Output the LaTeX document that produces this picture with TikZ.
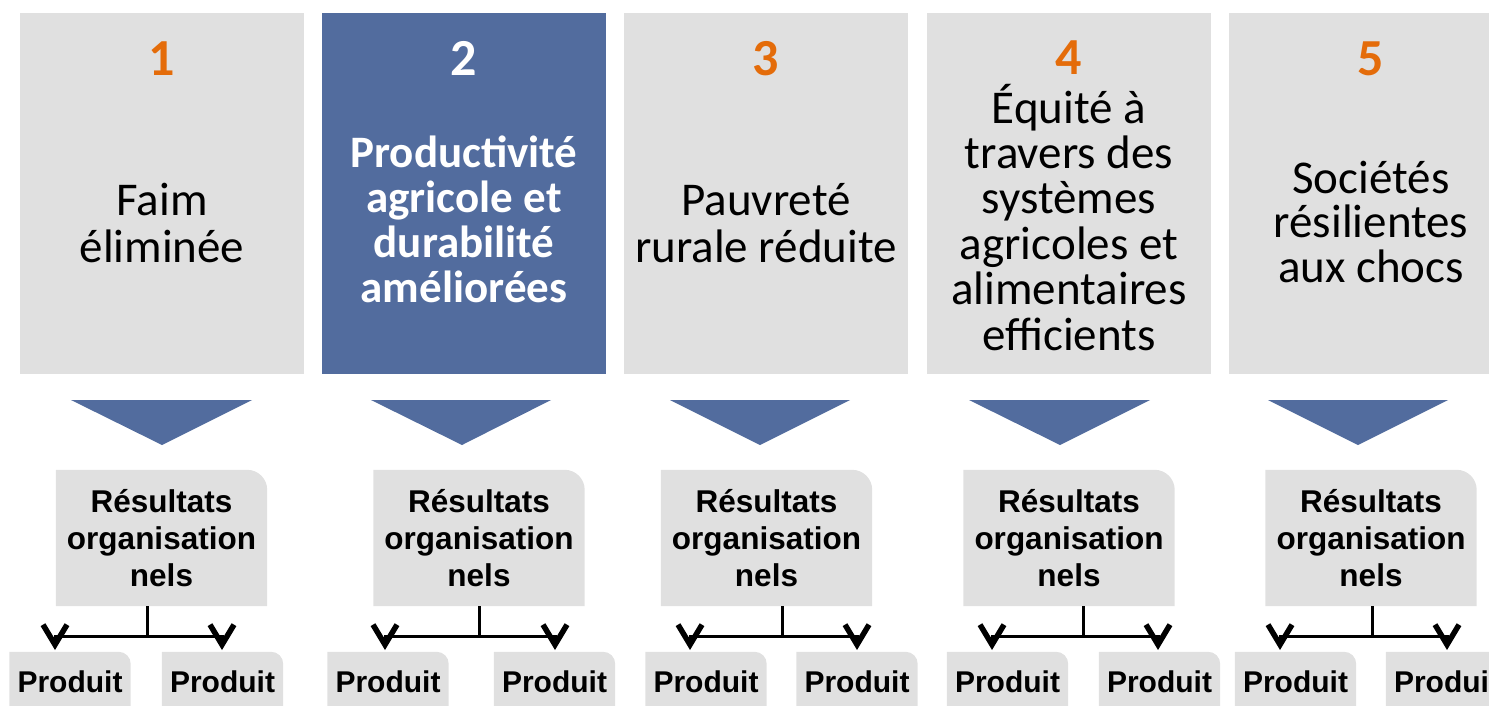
\documentclass[tikz,border=0pt]{standalone}
\usepackage{fontspec}
\setmainfont{Carlito}
\newfontfamily\arialf{Liberation Sans}
\usetikzlibrary{arrows.meta,backgrounds}
\definecolor{boxgray}{RGB}{224,224,224}
\definecolor{fblue}{RGB}{82,108,158}
\definecolor{forange}{RGB}{228,108,10}
\newcommand{\cornerfill}[2]{%
  \fill[boxgray] (#1.south west) -- (#1.north west) -- ([xshift=-#2]#1.north east)
    .. controls ([xshift=-0.45*#2]#1.north east) and ([yshift=-0.45*#2]#1.north east) ..
    ([yshift=-#2]#1.north east) -- (#1.south east) -- cycle;}
\begin{document}
\begin{tikzpicture}[x=1pt,y=-1pt,
  topbox/.style={draw=none,fill=boxgray,minimum width=284pt,minimum height=361pt,inner sep=0pt},
  numlbl/.style={anchor=base,text=forange,font=\bfseries\fontsize{52}{52}\selectfont,inner sep=0pt},
  toptext/.style={anchor=base,align=center,inner sep=0pt},
  tri/.style={fill=fblue,draw=none},
  resbox/.style={minimum width=211pt,minimum height=136pt,inner sep=0pt,align=center,
    font=\arialf\bfseries\fontsize{31.5}{37}\selectfont},
  prodbox/.style={minimum width=121pt,minimum height=60pt,inner sep=0pt,text height=21.6pt,text depth=0pt,
    font=\arialf\bfseries\fontsize{30}{36}\selectfont},
  link/.style={line width=3pt,black},
  arr/.style={line width=3pt,black,-{Straight Barb[length=20pt,width=24pt,line width=5.5pt]}}
]
\useasboundingbox (0,0) rectangle (1489,705);
\clip (0,0) rectangle (1489,705);

% top boxes
\node[topbox] (t1) at (162,193.5) {};
\node[topbox,fill=fblue] (t2) at (464,193.5) {};
\node[topbox] (t3) at (766,193.5) {};
\node[topbox] (t4) at (1069,193.5) {};
\node[topbox] (t5) at (1371,193.5) {};

\node[numlbl] (n1) at (162,75) {1};
\node[numlbl,text=white] (n2) at (464,75) {2};
\node[numlbl] (n3) at (766,75) {3};
\node[numlbl] (n4) at (1069,74) {4};
\node[numlbl] (n5) at (1371,75) {5};

% anchors at the baseline of the last line
\node[toptext,font=\fontsize{47}{47}\selectfont] (x1) at (162,262) {Faim\\éliminée};
\node[toptext,text=white,font=\bfseries\fontsize{45}{44.7}\selectfont] (x2) at (464,302)
  {Productivité\\agricole et\\durabilité\\améliorées};
\node[toptext,font=\fontsize{47}{47}\selectfont] (x3) at (766,262) {Pauvreté\\rurale réduite};
\node[toptext,font=\fontsize{47}{45.4}\selectfont] (x4) at (1069,350)
  {Équité à\\travers des\\systèmes\\agricoles et\\alimentaires\\efficients};
\node[toptext,font=\fontsize{47}{44.5}\selectfont] (x5) at (1371,282) {Sociétés\\résilientes\\aux chocs};

% triangles
\fill[tri] (71,400) -- (252,400) -- (162,445) -- cycle;
\fill[tri] (371,400) -- (551,400) -- (462,445) -- cycle;
\fill[tri] (670,400) -- (850,400) -- (760,445) -- cycle;
\fill[tri] (969,400) -- (1150,400) -- (1060,445) -- cycle;
\fill[tri] (1268,400) -- (1448,400) -- (1358,445) -- cycle;

% result boxes
\node[resbox] (r1) at (161.5,538) {Résultats\\organisation\\nels};
\node[resbox] (r2) at (479,538) {Résultats\\organisation\\nels};
\node[resbox] (r3) at (766.5,538) {Résultats\\organisation\\nels};
\node[resbox] (r4) at (1069,538) {Résultats\\organisation\\nels};
\node[resbox] (r5) at (1371,538) {Résultats\\organisation\\nels};

% product boxes
\node[prodbox] (p1a) at (70,682) {Produit};
\node[prodbox] (p1b) at (222.5,682) {Produit};
\node[prodbox] (p2a) at (388,682) {Produit};
\node[prodbox] (p2b) at (554.5,682) {Produit};
\node[prodbox] (p3a) at (706,682) {Produit};
\node[prodbox] (p3b) at (857,682) {Produit};
\node[prodbox] (p4a) at (1007.5,682) {Produit};
\node[prodbox] (p4b) at (1159.5,682) {Produit};
\node[prodbox] (p5a) at (1295.5,682) {Produit};
\node[prodbox] (p5b) at (1446.5,682) {Produit};

\begin{pgfonlayer}{background}
  \foreach \n in {r1,r2,r3,r4,r5} {\cornerfill{\n}{20pt}}
  \foreach \n in {p1a,p1b,p2a,p2b,p3a,p3b,p4a,p4b,p5a,p5b} {\cornerfill{\n}{12pt}}
\end{pgfonlayer}

% junctions and arrow ends
\coordinate (j1) at (147,636);   \coordinate (e1a) at (55,650);   \coordinate (e1b) at (222,650);
\coordinate (j2) at (479,636);   \coordinate (e2a) at (385,650);  \coordinate (e2b) at (555,650);
\coordinate (j3) at (782,636);   \coordinate (e3a) at (690,650);  \coordinate (e3b) at (857,650);
\coordinate (j4) at (1083,636);  \coordinate (e4a) at (992,650);  \coordinate (e4b) at (1158,650);
\coordinate (j5) at (1372,636);  \coordinate (e5a) at (1280,650); \coordinate (e5b) at (1447,650);

\foreach \i in {1,...,5} {
  \draw[link] (j\i |- r\i.south) -- (j\i);
  \draw[arr] (j\i) -| (e\i a);
  \draw[arr] (j\i) -| (e\i b);
}
\end{tikzpicture}
\end{document}
